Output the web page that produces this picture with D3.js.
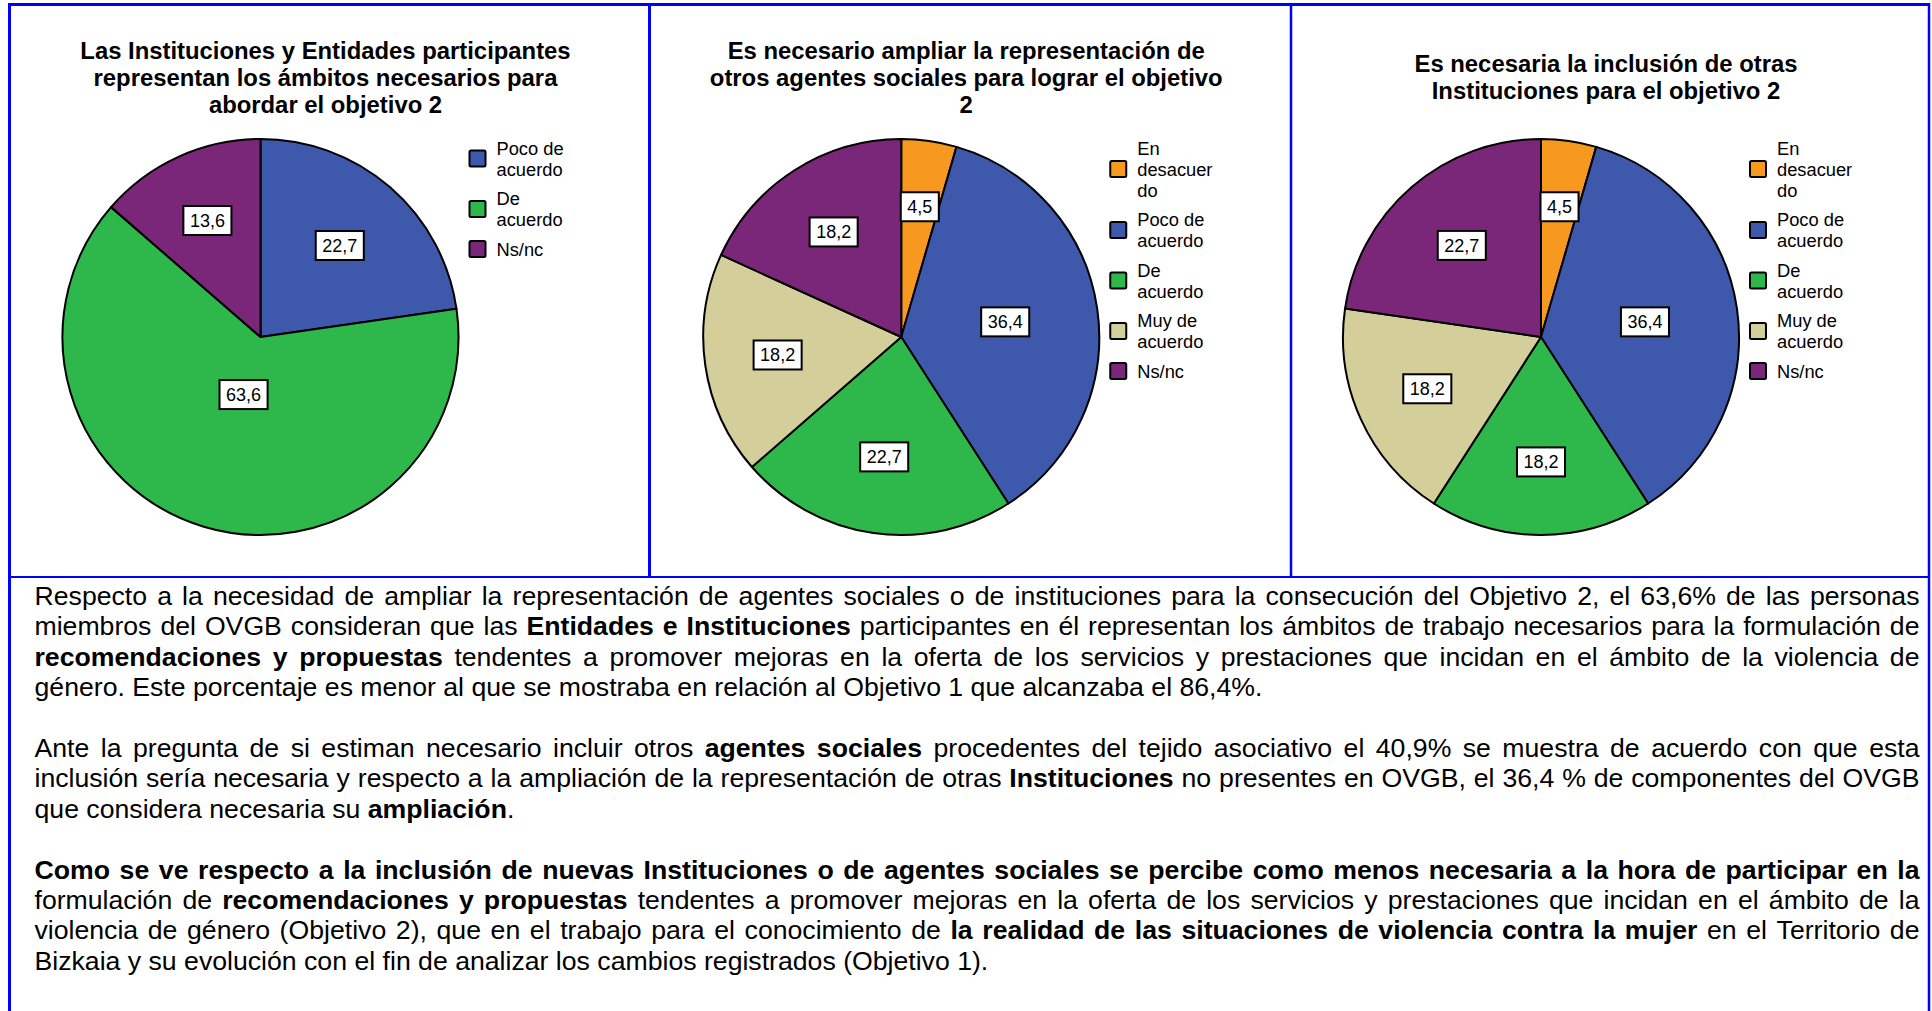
<!DOCTYPE html>
<html><head><meta charset="utf-8">
<script src="https://cdn.jsdelivr.net/npm/d3@7/dist/d3.min.js"></script>
<style>html,body{margin:0;padding:0;background:#fff;overflow:hidden;} svg{display:block;}</style>
</head><body>
<script>
// ---------- DATA ----------
const titles1 = ["Las Instituciones y Entidades participantes", "representan los ámbitos necesarios para", "abordar el objetivo 2"];
const titles2 = ["Es necesario ampliar la representación de", "otros agentes sociales para lograr el objetivo", "2"];
const titles3 = ["Es necesaria la inclusión de otras", "Instituciones para el objetivo 2"];

const categories = ["En desacuerdo", "Poco de acuerdo", "De acuerdo", "Muy de acuerdo", "Ns/nc"];
const categoryColors = ["#F7991F", "#3E59AC", "#2EB74B", "#D4CE9A", "#7B2779"];
const legendText = {
  "En desacuerdo": ["En", "desacuer", "do"],
  "Poco de acuerdo": ["Poco de", "acuerdo"],
  "De acuerdo": ["De", "acuerdo"],
  "Muy de acuerdo": ["Muy de", "acuerdo"],
  "Ns/nc": ["Ns/nc"]
};

const cats1 = ["Poco de acuerdo", "De acuerdo", "Ns/nc"];
const vals1 = [22.7, 63.6, 13.6];
const cats2 = ["En desacuerdo", "Poco de acuerdo", "De acuerdo", "Muy de acuerdo", "Ns/nc"];
const vals2 = [4.5, 36.4, 22.7, 18.2, 18.2];
const cats3 = ["En desacuerdo", "Poco de acuerdo", "De acuerdo", "Muy de acuerdo", "Ns/nc"];
const vals3 = [4.5, 36.4, 18.2, 18.2, 22.7];

// paragraph lines (** marks bold); last line of each paragraph is not justified
const paragraph1 = [
  "Respecto a la necesidad de ampliar la representación de agentes sociales o de instituciones para la consecución del Objetivo 2, el 63,6% de las personas",
  "miembros del OVGB consideran que las **Entidades e Instituciones** participantes en él representan los ámbitos de trabajo necesarios para la formulación de",
  "**recomendaciones y propuestas** tendentes a promover mejoras en la oferta de los servicios y prestaciones que incidan en el ámbito de la violencia de",
  "género. Este porcentaje es menor al que se mostraba en relación al Objetivo 1 que alcanzaba el 86,4%."
];
const paragraph2 = [
  "Ante la pregunta de si estiman necesario incluir otros **agentes sociales** procedentes del tejido asociativo el 40,9% se muestra de acuerdo con que esta",
  "inclusión sería necesaria y respecto a la ampliación de la representación de otras **Instituciones** no presentes en OVGB, el 36,4 % de componentes del OVGB",
  "que considera necesaria su **ampliación**."
];
const paragraph3 = [
  "**Como se ve respecto a la inclusión de nuevas Instituciones o de agentes sociales se percibe como menos necesaria a la hora de participar en la**",
  "formulación de **recomendaciones y propuestas** tendentes a promover mejoras en la oferta de los servicios y prestaciones que incidan en el ámbito de la",
  "violencia de género (Objetivo 2), que en el trabajo para el conocimiento de **la realidad de las situaciones de violencia contra la mujer** en el Territorio de",
  "Bizkaia y su evolución con el fin de analizar los cambios registrados (Objetivo 1)."
];

// ---------- LAYOUT ----------
const W = 1932, H = 1011;
const FONT = "'Liberation Sans', Arial, Helvetica, sans-serif";
const frameBlue = "#0000FF";
const panelEdges = [9.5, 649.5, 1291, 1929];
const panelBottom = 577;
const R = 198, pieCY = 337;

const svg = d3.select("body").append("svg").attr("width", W).attr("height", H)
  .style("font-family", FONT);

const color = d3.scaleOrdinal().domain(categories).range(categoryColors);
const fmt = v => d3.format(".1f")(v).replace(".", ",");

// measuring helper
const meas = svg.append("text").attr("x", -1000).attr("y", -1000);
function textWidth(t, size, weight) {
  meas.attr("font-size", size).attr("font-weight", weight).text(t);
  return meas.node().getComputedTextLength();
}

const charts = [
  {title: titles1, cats: cats1, vals: vals1},
  {title: titles2, cats: cats2, vals: vals2},
  {title: titles3, cats: cats3, vals: vals3}
];

const pie = d3.pie().sort(null).value(d => d.v).startAngle(0).endAngle(2 * Math.PI);
const arc = d3.arc().innerRadius(0).outerRadius(R);

charts.forEach((c, i) => {
  const px0 = panelEdges[i], px1 = panelEdges[i + 1];
  const pcx = (px0 + px1) / 2;
  const cx = pcx - 69;
  const g = svg.append("g");

  // title
  const tSize = 23.85, tLH = 27, tCenter = 77;
  const n = c.title.length;
  g.append("text").attr("text-anchor", "middle").attr("font-weight", "bold")
    .attr("font-size", tSize).attr("fill", "#000")
    .selectAll("tspan").data(c.title).join("tspan")
    .attr("x", pcx - 4)
    .attr("y", (d, k) => tCenter + (k - (n - 1) / 2) * tLH + 8.5)
    .text(d => d);

  // pie
  const data = c.cats.map((k, j) => ({k, v: c.vals[j]}));
  const arcs = pie(data);
  const pg = g.append("g").attr("transform", `translate(${cx},${pieCY})`);
  pg.selectAll("path").data(arcs).join("path")
    .attr("d", arc).attr("fill", d => color(d.data.k))
    .attr("stroke", "#000").attr("stroke-width", 2).attr("stroke-linejoin", "round");

  // labels at sector centroid
  arcs.forEach(a => {
    const half = (a.endAngle - a.startAngle) / 2;
    const mid = a.startAngle + half;
    const dist = 2 * R * Math.sin(half) / (3 * half);
    const lx = dist * Math.sin(mid), ly = -dist * Math.cos(mid);
    const txt = fmt(a.data.v);
    const tw = textWidth(txt, 18, "normal");
    const bw = tw + 13, bh = 29;
    pg.append("rect").attr("x", lx - bw / 2).attr("y", ly - bh / 2)
      .attr("width", bw).attr("height", bh)
      .attr("fill", "#fff").attr("stroke", "#000").attr("stroke-width", 2);
    pg.append("text").attr("x", lx).attr("y", ly + 6.5)
      .attr("text-anchor", "middle").attr("font-size", 18).attr("fill", "#000")
      .text(txt);
  });

  // legend
  const lg = g.append("g");
  let y = 148;
  const lh = 21, gap = 8.5;
  c.cats.forEach(k => {
    const lines = legendText[k];
    const sy = y + (lines.length - 1) * lh / 2;
    lg.append("rect").attr("x", cx + 209).attr("y", sy - 8).attr("width", 16).attr("height", 16)
      .attr("rx", 1.5).attr("fill", color(k)).attr("stroke", "#000").attr("stroke-width", 2);
    lg.append("text").attr("font-size", 18.3).attr("fill", "#000")
      .selectAll("tspan").data(lines).join("tspan")
      .attr("x", cx + 236).attr("y", (d, m) => y + m * lh + 6.5).text(d => d);
    y += lines.length * lh + gap;
  });
});

// ---------- PARAGRAPHS ----------
const pX0 = 34.5, pX1 = 1919.5, pSize = 26.65, pLH = 30.4, pBase0 = 605;
const allLines = [];
[paragraph1, paragraph2, paragraph3].forEach((p, pi) => {
  p.forEach((l, li) => allLines.push({text: l, last: li === p.length - 1}));
  if (pi < 2) allLines.push(null);
});

// words made of runs (bold / normal), split on spaces only
function parseWords(line) {
  const chars = [];
  line.split("**").forEach((part, idx) => {
    for (const ch of part) chars.push({ch, bold: idx % 2 === 1});
  });
  const words = [];
  let cur = null;
  chars.forEach(c => {
    if (c.ch === " ") { if (cur) { words.push(cur); cur = null; } return; }
    if (!cur) cur = [];
    const last = cur[cur.length - 1];
    if (last && last.bold === c.bold) last.t += c.ch; else cur.push({t: c.ch, bold: c.bold});
  });
  if (cur) words.push(cur);
  return words;
}

const spaceW = textWidth("a a", pSize, "normal") - textWidth("aa", pSize, "normal");
const tg = svg.append("g").attr("font-size", pSize).attr("fill", "#000");
allLines.forEach((ln, i) => {
  if (!ln) return;
  const y = pBase0 + i * pLH;
  const words = parseWords(ln.text);
  words.forEach(w => {
    w.forEach(r => r.width = textWidth(r.t, pSize, r.bold ? "bold" : "normal"));
    w.width = d3.sum(w, r => r.width);
  });
  const total = d3.sum(words, w => w.width);
  const g = ln.last ? spaceW : (pX1 - pX0 - total) / (words.length - 1);
  let x = pX0;
  const t = tg.append("text").attr("y", y);
  words.forEach((w, k) => {
    let rx = x;
    w.forEach((r, m) => {
      const isEnd = k < words.length - 1 && m === w.length - 1;
      t.append("tspan").attr("x", rx).attr("font-weight", r.bold ? "bold" : "normal")
        .text(r.t + (isEnd ? " " : ""));
      rx += r.width;
    });
    x += w.width + g;
  });
});
meas.remove();

// ---------- FRAME ----------
const fr = svg.append("g").attr("stroke", frameBlue).attr("fill", "none");
fr.append("line").attr("x1", 8).attr("x2", 1930).attr("y1", 4.5).attr("y2", 4.5).attr("stroke-width", 3);
fr.append("line").attr("x1", 9.5).attr("x2", 9.5).attr("y1", 3).attr("y2", H).attr("stroke-width", 3);
fr.append("line").attr("x1", 1929).attr("x2", 1929).attr("y1", 3).attr("y2", H).attr("stroke-width", 2.5);
fr.append("line").attr("x1", 649.5).attr("x2", 649.5).attr("y1", 3).attr("y2", panelBottom).attr("stroke-width", 3);
fr.append("line").attr("x1", 1291).attr("x2", 1291).attr("y1", 3).attr("y2", panelBottom).attr("stroke-width", 2.5);
fr.append("line").attr("x1", 8).attr("x2", 1930).attr("y1", panelBottom).attr("y2", panelBottom).attr("stroke-width", 2);
</script>
</body></html>
